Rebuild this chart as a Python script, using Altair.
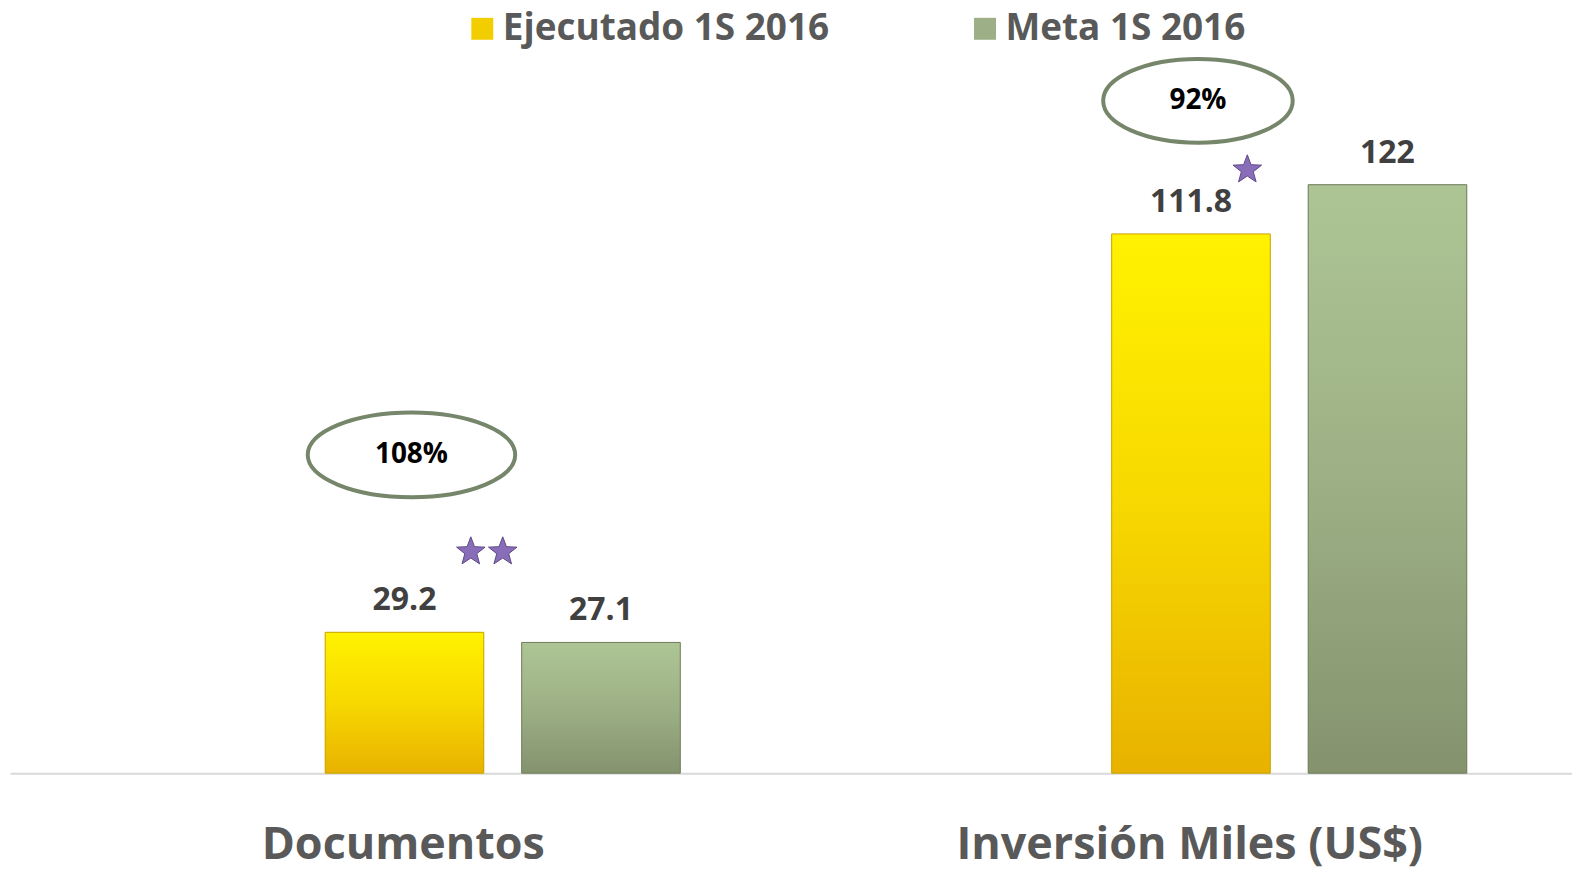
import altair as alt
import pandas as pd

# ---------------- data ----------------
categories = ["Documentos", "Inversión Miles (US$)"]
series = ["Ejecutado 1S 2016", "Meta 1S 2016"]
ejecutado = [29.2, 111.8]
meta = [27.1, 122]
percent_labels = ["108%", "92%"]
percent_y = [66.0, 139.4]      # height (in data units) of the % bubbles
star_y = [45.9, 125.1]         # height (in data units) of the stars
star_counts = [2, 1]

# ---------------- styles ----------------
FONT = "Open Sans"
YELLOW_STOPS = ["#fff200", "#f7d800", "#e8b200"]
GREEN_STOPS = ["#adc595", "#9db085", "#84936e"]
EDGE = ["#c9a400", "#6f7d5c"]
LEGEND_COLORS = ["#f2cd00", "#9caf86"]
ELLIPSE_W = [208, 190]
ELLIPSE_H = [85, 84]
ANN_DX = 7
STAR_R = 15
STAR_DX = [[66.5, 98.5], [56.5]]

rows = []
for i, c in enumerate(categories):
    for s, vals in zip(series, [ejecutado, meta]):
        v = vals[i]
        rows.append({"categoria": c, "serie": s, "valor": v, "label": f"{v:g}"})
df = pd.DataFrame(rows)

ann = pd.DataFrame({
    "categoria": categories,
    "serie": [series[0]] * len(categories),
    "py": percent_y,
    "sy": star_y,
    "pct": percent_labels,
})

x_enc = alt.X(
    "categoria:N",
    sort=categories,
    scale=alt.Scale(domain=categories, paddingInner=0, paddingOuter=0, range=[0, 1577]),
    axis=alt.Axis(
        title=None, labelAngle=0, ticks=False, domainColor="#d9d9d9",
        domainWidth=2, labelFont=FONT, labelFontSize=45, labelFontWeight="bold",
        labelColor="#595959", labelPadding=50, grid=False, labelLimit=0,
    ),
)
xo_enc = alt.XOffset(
    "serie:N",
    scale=alt.Scale(domain=series, range=[316, 672], paddingInner=0.193, paddingOuter=0),
)
y_scale = alt.Scale(domain=[0, 158], nice=False, zero=True)


def yq(field):
    return alt.Y(field, scale=y_scale, axis=None)


base = alt.Chart(df)

legend_bars = base.mark_bar().encode(
    x=x_enc, xOffset=xo_enc, y=yq("valor:Q"),
    color=alt.Color(
        "serie:N",
        scale=alt.Scale(domain=series, range=LEGEND_COLORS),
        legend=alt.Legend(
            title=None, orient="none", legendX=455, legendY=-1,
            direction="horizontal", symbolType="square", symbolSize=484,
            labelFont=FONT, labelFontSize=37, labelFontWeight="bold",
            labelColor="#595959", columnPadding=137, labelOffset=2, padding=0,
            labelLimit=0,
        ),
    ),
)

layers = [legend_bars]
for s, stops, edge in zip(series, [YELLOW_STOPS, GREEN_STOPS], EDGE):
    grad = alt.Gradient(
        gradient="linear",
        stops=[
            alt.GradientStop(color=stops[0], offset=0),
            alt.GradientStop(color=stops[1], offset=0.5),
            alt.GradientStop(color=stops[2], offset=1),
        ],
        x1=0, x2=0, y1=0, y2=1,
    )
    layers.append(
        base.transform_filter(alt.datum.serie == s)
        .mark_bar(color=grad, stroke=edge, strokeWidth=1)
        .encode(x=x_enc, xOffset=xo_enc, y=yq("valor:Q"))
    )

layers.append(
    base.mark_text(dy=-32, baseline="middle", font=FONT, fontSize=32,
                   fontWeight="bold", color="#404040")
    .encode(x=x_enc, xOffset=xo_enc, y=yq("valor:Q"), text="label:N")
)


def ellipse_path(w, h, dx):
    # symbol path on a grid scaled by w/2; dx shifts it in pixels
    r = w / 2
    a = h / w
    k = 0.5523
    o = dx / r
    return (
        f"M {o-1:.4f} 0 C {o-1:.4f} {-a*k:.4f} {o-k:.4f} {-a:.4f} {o:.4f} {-a:.4f} "
        f"C {o+k:.4f} {-a:.4f} {o+1:.4f} {-a*k:.4f} {o+1:.4f} 0 "
        f"C {o+1:.4f} {a*k:.4f} {o+k:.4f} {a:.4f} {o:.4f} {a:.4f} "
        f"C {o-k:.4f} {a:.4f} {o-1:.4f} {a*k:.4f} {o-1:.4f} 0 Z"
    )


STAR_PTS = [(0, -1), (0.2469, -0.3398), (0.9511, -0.309), (0.3995, 0.1298),
            (0.5878, 0.809), (0, 0.42), (-0.5878, 0.809), (-0.3995, 0.1298),
            (-0.9511, -0.309), (-0.2469, -0.3398)]


def star_path(dx):
    o = dx / STAR_R
    pts = [f"{px + o:.4f} {py:.4f}" for px, py in STAR_PTS]
    return "M " + " L ".join(pts) + " Z"


for i, c in enumerate(categories):
    sub = alt.Chart(ann).transform_filter(alt.datum.categoria == c)
    layers.append(
        sub.mark_point(shape=ellipse_path(ELLIPSE_W[i], ELLIPSE_H[i], ANN_DX),
                       size=ELLIPSE_W[i] ** 2, filled=False,
                       stroke="#76866a", strokeWidth=4, opacity=1)
        .encode(x=x_enc, xOffset=xo_enc, y=yq("py:Q"))
    )
    layers.append(
        sub.mark_text(font=FONT, fontSize=28, fontWeight="bold", color="#000000",
                      baseline="middle", dx=ANN_DX)
        .encode(x=x_enc, xOffset=xo_enc, y=yq("py:Q"), text="pct:N")
    )
    for j in range(star_counts[i]):
        layers.append(
            sub.mark_point(shape=star_path(STAR_DX[i][j]), size=(2 * STAR_R) ** 2,
                           filled=True, fill="#8a6db8", stroke="#5d4886",
                           strokeWidth=1, opacity=1)
            .encode(x=x_enc, xOffset=xo_enc, y=yq("sy:Q"))
        )

chart = (
    alt.layer(*layers)
    .properties(
        width=1566, height=764,
        autosize=alt.AutoSizeParams(type="none"),
        padding={"left": 2, "top": 2, "right": 0, "bottom": 95},
        background="white",
    )
    .configure_view(stroke=None)
)

chart.save("out.html", embed_options={"renderer": "svg", "actions": False})
